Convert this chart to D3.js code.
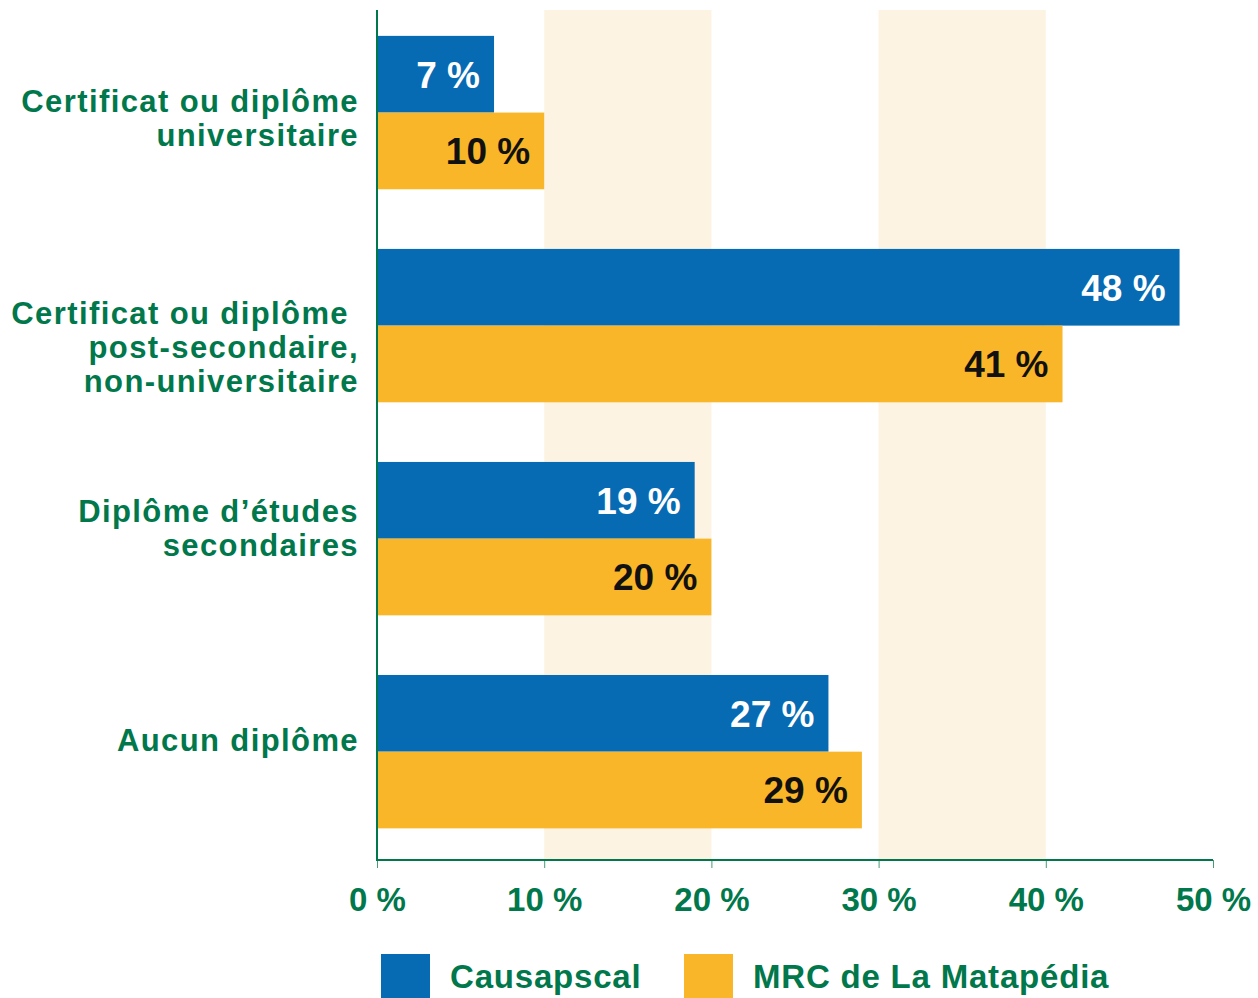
<!DOCTYPE html>
<meta charset="utf-8">
<style>
 body { margin: 0; background: #fff; }
 svg text { font-family: "Liberation Sans", Arial, sans-serif; font-weight: bold; }
</style>
<body>
<script src="https://cdn.jsdelivr.net/npm/d3@7"></script>
<script>

 // data
 var categories = ["Certificat ou diplôme universitaire",
                   "Certificat ou diplôme post-secondaire, non-universitaire",
                   "Diplôme d’études secondaires",
                   "Aucun diplôme"];
 var categoryLines = [["Certificat ou diplôme", "universitaire"],
                      ["Certificat ou diplôme\u00a0", "post-secondaire,", "non-universitaire"],
                      ["Diplôme d’études", "secondaires"],
                      ["Aucun diplôme"]];
 var seriesNames = ["Causapscal", "MRC de La Matapédia"];
 var causapscal = [7, 48, 19, 27];
 var matapedia = [10, 41, 20, 29];
 var xTicks = [0, 10, 20, 30, 40, 50];
 var bands = [[10, 20], [30, 40]];

 // layout: vertical nudge of each category label block (px)
 var labelNudge = [5, 21, -11, -12];

 var green = "#00784b",
     colors = ["#066bb3", "#f9b628"],
     labelColors = ["#ffffff", "#111111"];

 var width = 1258, height = 998;
 var plotLeft = 377, plotRight = 1213, plotTop = 10, plotBottom = 860;

 var svg = d3.select("body").append("svg")
             .attr("width", width)
             .attr("height", height);

 var x = d3.scaleLinear().domain([0, 50]).range([plotLeft, plotRight]);

 var y = d3.scaleBand()
           .domain(categories)
           .range([plotTop, plotBottom])
           .paddingInner(0.28)
           .paddingOuter(0.135)
           .align(0.45);

 var ySub = d3.scaleBand()
              .domain(seriesNames)
              .range([0, y.bandwidth()]);

 // background bands
 svg.append("g").selectAll("rect")
    .data(bands)
    .enter().append("rect")
    .attr("x", function(d) { return x(d[0]); })
    .attr("width", function(d) { return x(d[1]) - x(d[0]); })
    .attr("y", plotTop)
    .attr("height", plotBottom - plotTop)
    .attr("fill", "#fdf3e2");

 var rows = categories.map(function(c, i) {
     return { cat: c, i: i, lines: categoryLines[i], values: [causapscal[i], matapedia[i]] };
 });

 var group = svg.append("g").selectAll("g")
                .data(rows)
                .enter().append("g")
                .attr("transform", function(d) { return "translate(0," + y(d.cat) + ")"; });

 var bar = group.selectAll("g")
                .data(function(d) { return d.values.map(function(v, j) { return { v: v, s: seriesNames[j], j: j }; }); })
                .enter().append("g");

 bar.append("rect")
    .attr("x", x(0))
    .attr("y", function(d) { return ySub(d.s); })
    .attr("width", function(d) { return x(d.v) - x(0); })
    .attr("height", ySub.bandwidth())
    .attr("fill", function(d) { return colors[d.j]; });

 bar.append("text")
    .attr("x", function(d) { return x(d.v) - 14; })
    .attr("y", function(d) { return ySub(d.s) + ySub.bandwidth() / 2; })
    .attr("dy", "0.36em")
    .attr("text-anchor", "end")
    .attr("font-size", 37)
    .attr("fill", function(d) { return labelColors[d.j]; })
    .text(function(d) { return d.v + " %"; });

 // category labels
 var lineH = 34;
 group.append("text")
      .attr("text-anchor", "end")
      .attr("font-size", 31)
      .attr("letter-spacing", 1.4)
      .attr("fill", green)
      .style("white-space", "pre")
      .each(function(d) {
          var t = d3.select(this);
          var n = d.lines.length;
          d.lines.forEach(function(l, k) {
              t.append("tspan")
               .attr("x", plotLeft - 18)
               .attr("y", y.bandwidth() / 2 + labelNudge[d.i] + (k - (n - 1) / 2) * lineH)
               .attr("dy", "0.36em")
               .text(l);
          });
      });

 // axes
 var xAxis = d3.axisBottom(x)
               .tickValues(xTicks)
               .tickSize(8)
               .tickFormat(function(d) { return d + " %"; });

 var gX = svg.append("g")
             .attr("transform", "translate(0," + plotBottom + ")")
             .call(xAxis);
 gX.select(".domain").remove();
 gX.selectAll("line").attr("stroke", "#4a9a78").attr("stroke-width", 1);
 gX.selectAll("text")
   .attr("font-size", 33)
   .attr("font-family", "Liberation Sans, Arial, sans-serif")
   .attr("fill", green)
   .attr("y", 28)
   .attr("dy", "0.71em");

 svg.append("line")
    .attr("x1", x(0)).attr("x2", x(50))
    .attr("y1", plotBottom).attr("y2", plotBottom)
    .attr("stroke", green).attr("stroke-width", 2);
 svg.append("line")
    .attr("x1", x(0)).attr("x2", x(0))
    .attr("y1", plotTop).attr("y2", plotBottom + 1)
    .attr("stroke", green).attr("stroke-width", 2);

 // legend
 var legendX = [381, 684];
 var legend = svg.append("g").selectAll("g")
                 .data(seriesNames)
                 .enter().append("g")
                 .attr("transform", function(d, i) { return "translate(" + legendX[i] + ",954)"; });
 legend.append("rect")
       .attr("width", 49)
       .attr("height", 44)
       .attr("fill", function(d, i) { return colors[i]; });
 legend.append("text")
       .attr("x", 69)
       .attr("y", 22)
       .attr("dy", "0.36em")
       .attr("font-size", 33)
       .attr("letter-spacing", 0.8)
       .attr("fill", green)
       .text(function(d) { return d; });

</script>
